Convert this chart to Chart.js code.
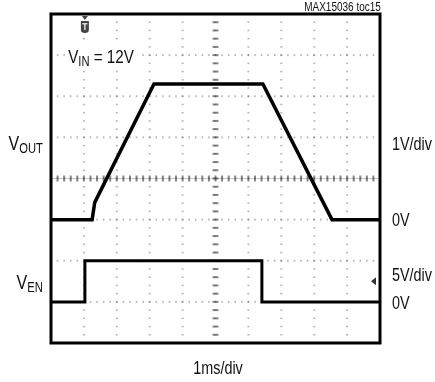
<!DOCTYPE html>
<html><head><meta charset="utf-8">
<script src="https://cdn.jsdelivr.net/npm/chart.js@4.4.1/dist/chart.umd.min.js"></script>
<style>
html,body{margin:0;padding:0;background:#fff;}
#wrap{position:relative;width:435px;height:382px;overflow:hidden;background:#fff;}
canvas{position:absolute;left:0;top:0;}
.t{position:absolute;font-family:"Liberation Sans","Arial",sans-serif;color:#111;white-space:nowrap;line-height:18px;font-size:18px;}
.t sub{font-size:14px;vertical-align:-3px;line-height:0;}
</style></head><body>
<div id="wrap"><canvas id="c" width="435" height="382"></canvas></div>
<script>
// ---- data (time in ms, voltages in V) ----
const timeOutMs = [0, 1.25, 1.33, 3.13, 6.44, 8.54, 10];
const voutV     = [0, 0,    0.42, 3.3,  3.3,  0,    0];
const timeEnMs  = [0, 1.03, 1.03, 6.41, 6.41, 10];
const venV      = [0, 0,    5,    5,    0,    0];
const triggerMs = 1.03;
// scope settings
const voutVoltsPerDiv = 1, voutZeroDiv = 3;
const venVoltsPerDiv = 5,  venZeroDiv = 1;
const xDivs = 10, yDivs = 8;
const markerDiv = 1.5;

const toDiv = (v, vpd, z) => z + v / vpd;

const gridPlugin = {
  id: 'scopeGrid',
  beforeDatasetsDraw(chart) {
    const ctx = chart.ctx, xs = chart.scales.x, ys = chart.scales.y;
    ctx.save();
    ctx.fillStyle = 'rgba(90,90,90,0.45)';
    for (let i = 0; i <= xDivs; i++) {
      const px = xs.getPixelForValue(i);
      for (let j = 0; j <= yDivs * 5; j++) {
        const py = ys.getPixelForValue(j * 0.2);
        ctx.fillRect(px - 1, py - 0.75, 2, 1.5);
      }
    }
    for (let j = 0; j <= yDivs; j++) {
      const py = ys.getPixelForValue(j);
      for (let i = 0; i <= xDivs * 5; i++) {
        const px = xs.getPixelForValue(i * 0.2);
        ctx.fillRect(px - 0.75, py - 1, 1.5, 2);
      }
    }
    const cx = xs.getPixelForValue(xDivs / 2), cy = ys.getPixelForValue(yDivs / 2);
    ctx.strokeStyle = 'rgba(130,130,130,0.45)';
    ctx.lineWidth = 1;
    ctx.beginPath(); ctx.moveTo(chart.chartArea.left, cy); ctx.lineTo(chart.chartArea.right, cy); ctx.stroke();
    ctx.fillStyle = 'rgba(60,60,60,0.6)';
    for (let j = 0; j <= yDivs * 5; j++) {
      const py = ys.getPixelForValue(j * 0.2);
      ctx.fillRect(cx - 3, py - 1, 6, 2);
    }
    for (let i = 0; i <= xDivs * 5; i++) {
      const px = xs.getPixelForValue(i * 0.2);
      ctx.fillRect(px - 1, cy - 3, 2, 6);
    }
    ctx.restore();
  },
  afterDraw(chart) {
    const ctx = chart.ctx, a = chart.chartArea, xs = chart.scales.x, ys = chart.scales.y;
    ctx.save();
    ctx.strokeStyle = '#000';
    ctx.lineWidth = 3;
    ctx.strokeRect(a.left, a.top, a.right - a.left, a.bottom - a.top);
    // trigger marker
    const tx = xs.getPixelForValue(triggerMs);
    ctx.fillStyle = '#444';
    ctx.beginPath();
    ctx.moveTo(tx - 3, a.top + 2); ctx.lineTo(tx + 3, a.top + 2); ctx.lineTo(tx, a.top + 6); ctx.closePath(); ctx.fill();
    ctx.beginPath();
    ctx.moveTo(tx - 4, a.top + 7); ctx.lineTo(tx + 4, a.top + 7); ctx.lineTo(tx + 4, a.top + 16);
    ctx.quadraticCurveTo(tx + 4, a.top + 19, tx, a.top + 19);
    ctx.quadraticCurveTo(tx - 4, a.top + 19, tx - 4, a.top + 16);
    ctx.closePath(); ctx.fill();
    ctx.fillStyle = '#ddd';
    ctx.fillRect(tx - 2.5, a.top + 9, 5, 1.5);
    ctx.fillRect(tx - 0.75, a.top + 9, 1.5, 7);
    // ground marker arrow
    const my = ys.getPixelForValue(markerDiv);
    ctx.fillStyle = '#333';
    ctx.beginPath();
    ctx.moveTo(a.right - 9, my); ctx.lineTo(a.right - 4, my - 4); ctx.lineTo(a.right - 4, my + 4); ctx.closePath(); ctx.fill();
    ctx.restore();
  }
};

new Chart(document.getElementById('c'), {
  type: 'line',
  data: {
    datasets: [
      { label: 'VOUT', data: timeOutMs.map((t, i) => ({ x: t, y: toDiv(voutV[i], voutVoltsPerDiv, voutZeroDiv) })),
        borderColor: '#000', borderWidth: 3.5, pointRadius: 0, tension: 0, fill: false },
      { label: 'VEN', data: timeEnMs.map((t, i) => ({ x: t, y: toDiv(venV[i], venVoltsPerDiv, venZeroDiv) })),
        borderColor: '#000', borderWidth: 3, pointRadius: 0, tension: 0, fill: false }
    ]
  },
  options: {
    responsive: false,
    animation: false,
    devicePixelRatio: 1,
    layout: { padding: { left: 51, right: 55, top: 14, bottom: 39 } },
    plugins: { legend: { display: false }, tooltip: { enabled: false }, title: { display: false } },
    scales: {
      x: { type: 'linear', min: 0, max: xDivs, display: false },
      y: { type: 'linear', min: 0, max: yDivs, display: false }
    }
  },
  plugins: [gridPlugin]
});

// ---- text labels (condensed via horizontal scaling) ----
const wrap = document.getElementById('wrap');
const squeeze = 0.8;
function label(html, x, capCenterY, align, size, extra) {
  const d = document.createElement('div');
  d.className = 't';
  d.innerHTML = html;
  const fs = size || 18;
  d.style.fontSize = fs + 'px';
  d.style.lineHeight = fs + 'px';
  d.style.top = (capCenterY - fs * 0.483) + 'px';
  if (align === 'right') {
    d.style.right = (435 - x) + 'px';
    d.style.transformOrigin = 'right center';
    d.style.transform = 'scaleX(' + squeeze + ')';
  } else if (align === 'center') {
    d.style.left = x + 'px';
    d.style.transformOrigin = 'center center';
    d.style.transform = 'translateX(-50%) scaleX(' + squeeze + ')';
  } else {
    d.style.left = x + 'px';
    d.style.transformOrigin = 'left center';
    d.style.transform = 'scaleX(' + squeeze + ')';
  }
  if (extra) Object.assign(d.style, extra);
  wrap.appendChild(d);
}
label('MAX15036 toc15', 381, 7, 'right', 12.5);
label('V<sub>IN</sub> = 12V', 65, 54.5, 'left', 19, { background: '#fff', padding: '2px 4px' });
label('V<sub>OUT</sub>', 43, 143, 'right', 20);
label('V<sub>EN</sub>', 43, 282, 'right', 20);
label('1V/div', 392, 143.5, 'left', 18);
label('0V', 392, 220, 'left', 18);
label('5V/div', 392, 275, 'left', 18);
label('0V', 392, 303, 'left', 18);
label('1ms/div', 218, 368, 'center', 18);
</script>
</body></html>
